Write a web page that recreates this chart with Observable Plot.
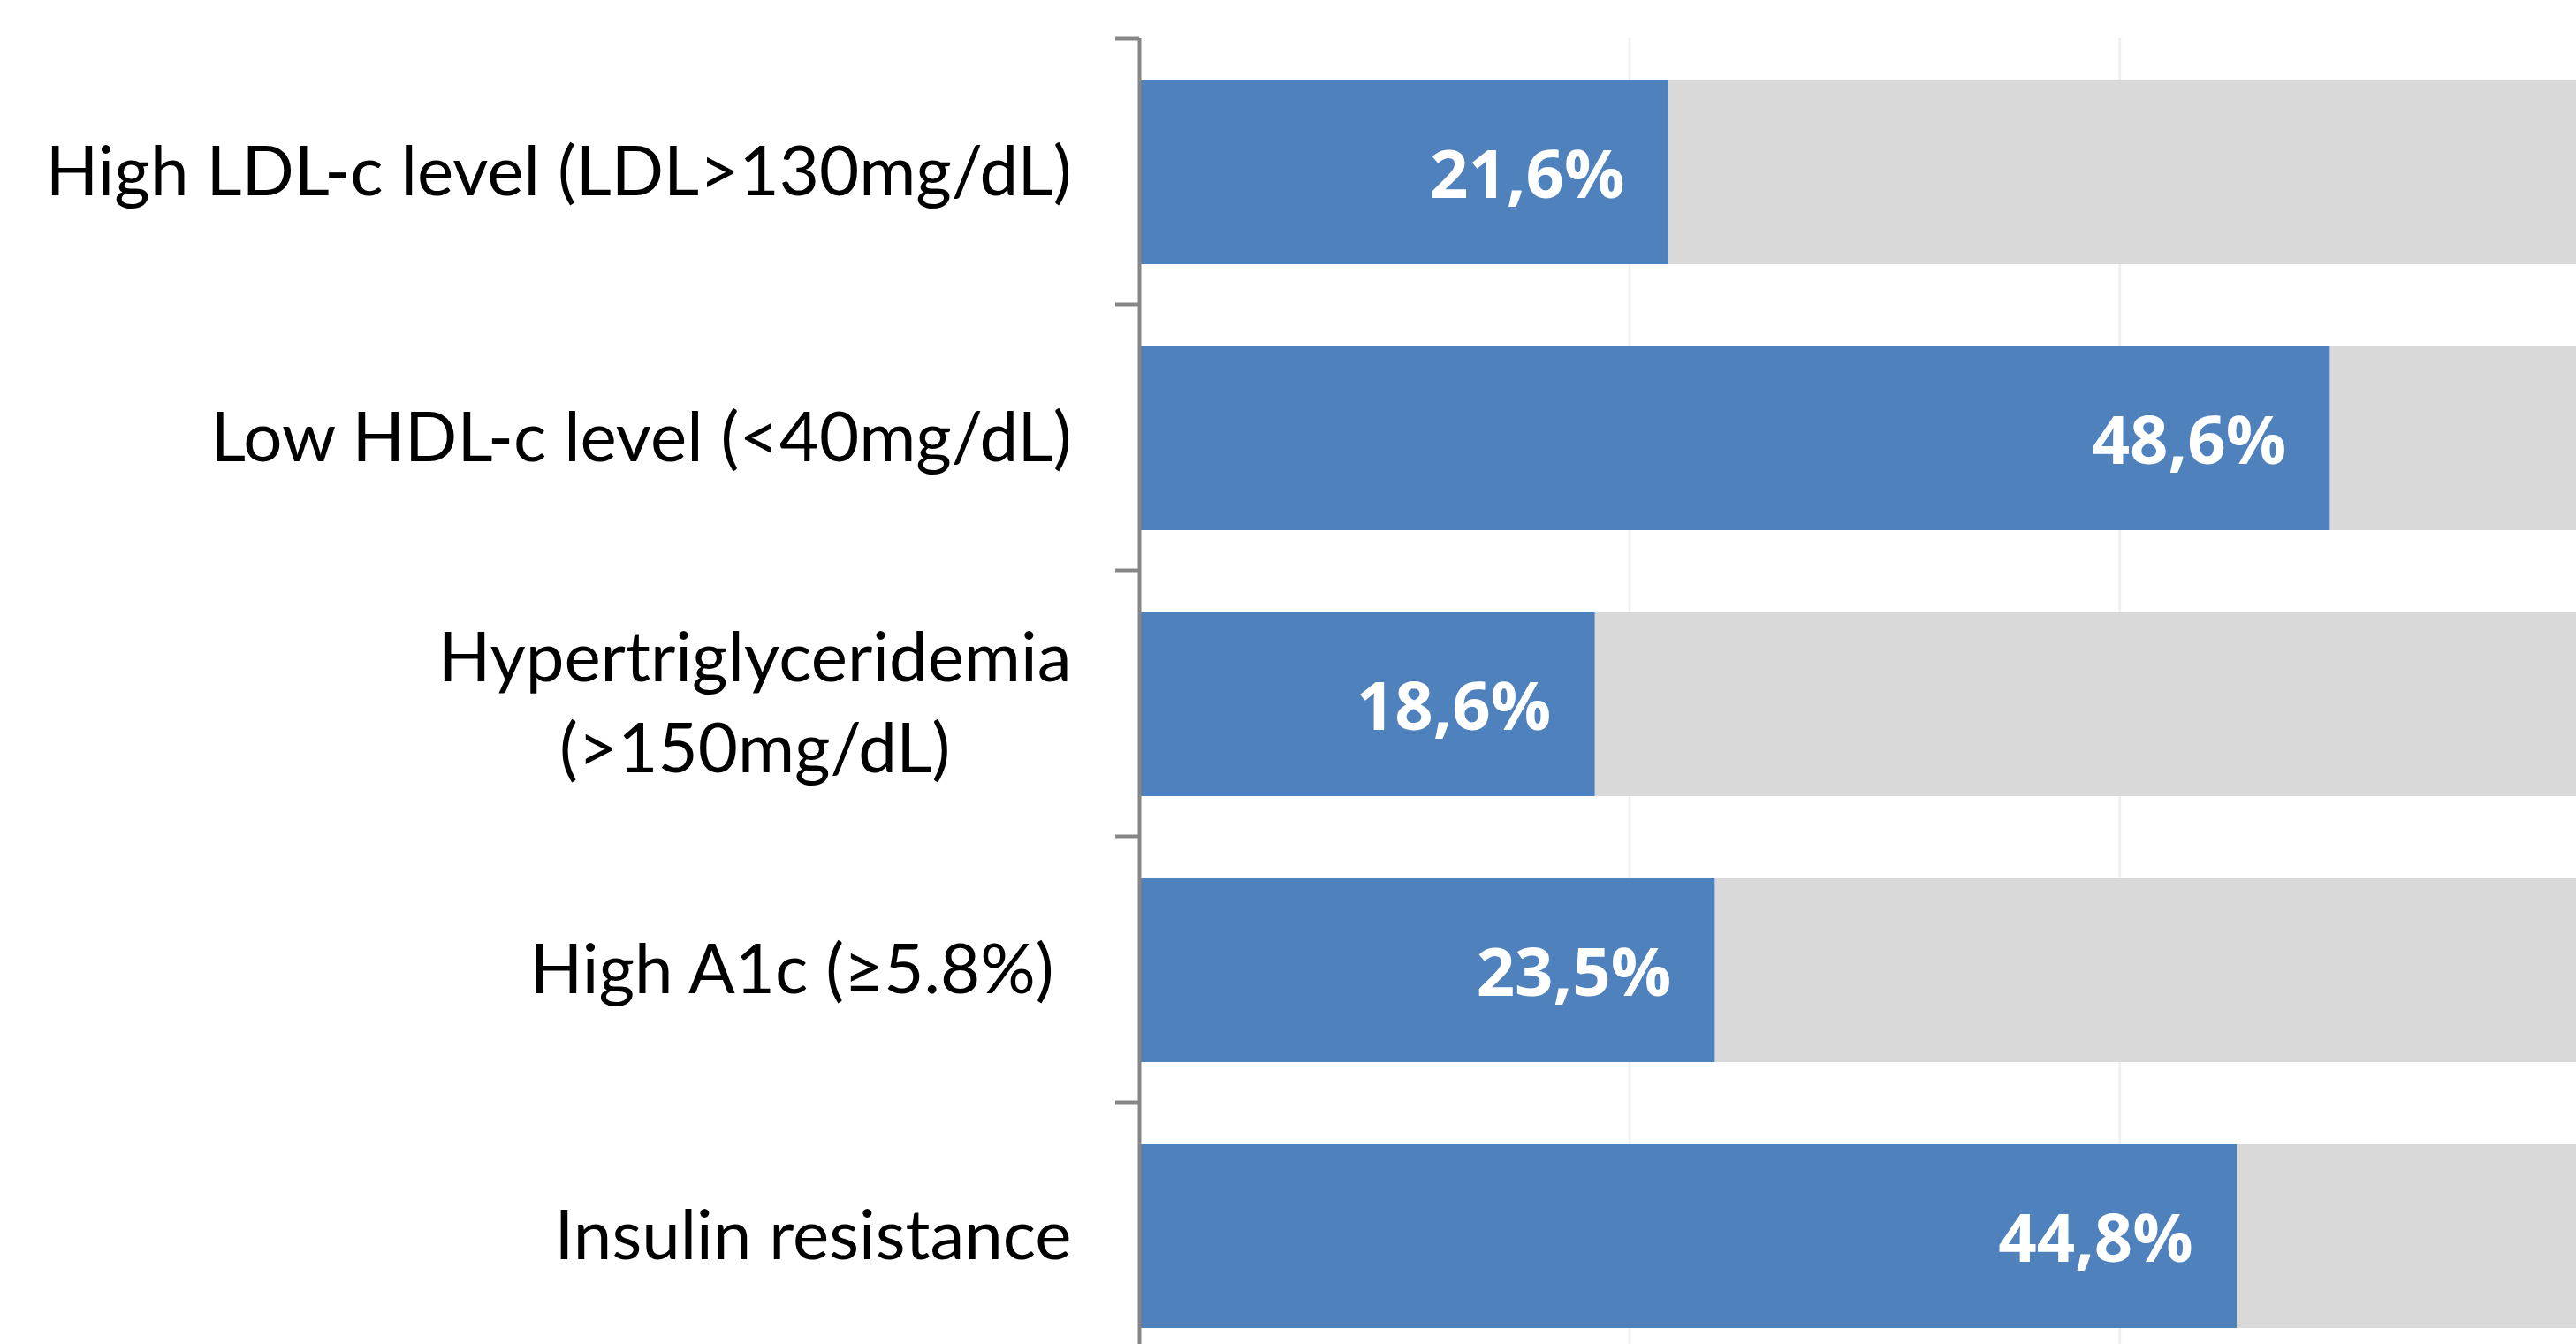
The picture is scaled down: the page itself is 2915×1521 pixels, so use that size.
<!DOCTYPE html>
<html>
<head>
<meta charset="utf-8">
<script src="https://cdn.jsdelivr.net/npm/d3@7"></script>
<script src="https://cdn.jsdelivr.net/npm/@observablehq/plot@0.6"></script>
<style>
  html, body { margin: 0; padding: 0; background: #fff; overflow: hidden; }
  #chart svg { display: block; overflow: hidden; }
</style>
</head>
<body>
<div id="chart"></div>
<script>
// Prevalence of metabolic risk factors (% of patients)
const categories = [
  "High LDL-c level (LDL>130mg/dL)",
  "Low HDL-c level (<40mg/dL)",
  "Hypertriglyceridemia\n(>150mg/dL)",
  "High A1c (≥5.8%) ",
  "Insulin resistance"
];
const prevalence = [21.6, 48.6, 18.6, 23.5, 44.8];
const gridTicks = [20, 40, 60, 80, 100];
const groups = ["present", "absent"];

// 100% stacked rows: share with the factor, then the remainder
const rows = categories.flatMap((category, i) => [
  {category, group: groups[0], value: prevalence[i]},
  {category, group: groups[1], value: 100 - prevalence[i]}
]);
const valueRows = categories.map((category, i) => ({category, value: prevalence[i]}));
const fmt = v => v.toFixed(1).replace(".", ",") + "%";

const W = 2915, H = 1521;
const x0 = 1289, pxPerUnit = 27.73;
const yTop = 43, yBottom = 1548;
const step = (yBottom - yTop) / categories.length;
const axisGray = "#868686";
const labelFont = "Lato";

const chart = Plot.plot({
  width: W,
  height: H,
  marginLeft: x0,
  marginRight: 0,
  marginTop: yTop,
  marginBottom: 0,
  style: {background: "#fff"},
  x: {domain: [0, 100], range: [x0, x0 + 100 * pxPerUnit], axis: null},
  y: {domain: categories, range: [yTop, yBottom], padding: 0, axis: null},
  color: {domain: groups, range: ["#4F81BD", "#D9D9D9"]},
  marks: [
    Plot.ruleX(gridTicks, {stroke: "#F0F0F0", strokeWidth: 3}),
    Plot.barX(rows, Plot.stackX({
      x: "value", y: "category", fill: "group", order: groups,
      insetTop: 48, insetBottom: 45
    })),
    Plot.text(valueRows, {
      x: "value", y: "category", text: d => fmt(d.value),
      textAnchor: "end", dx: -50, dy: 6,
      fill: "#fff", fontSize: 76, fontWeight: 700, fontFamily: "Open Sans"
    }),
    Plot.ruleX([0], {stroke: axisGray, strokeWidth: 4}),
    Plot.axisY({
      tickSize: 27, text: null, label: null, dy: -step / 2,
      stroke: axisGray, strokeWidth: 4
    }),
    Plot.text(categories, {
      x: () => 0, y: d => d, text: d => d,
      textAnchor: "end", dx: -77, dy: -6, lineHeight: 1.32,
      fill: "#000", fontSize: 78, fontFamily: labelFont,
      className: "cat-label"
    })
  ]
});

document.getElementById("chart").append(chart);

// Multi-line category labels: centre each line within the right-aligned block
chart.querySelectorAll(".cat-label text").forEach(t => {
  const spans = t.querySelectorAll("tspan");
  if (spans.length < 2) return;
  const w = Math.max(...Array.from(spans, s => s.getComputedTextLength()));
  t.setAttribute("text-anchor", "middle");
  spans.forEach(s => s.setAttribute("x", -w / 2));
});
</script>
</body>
</html>
